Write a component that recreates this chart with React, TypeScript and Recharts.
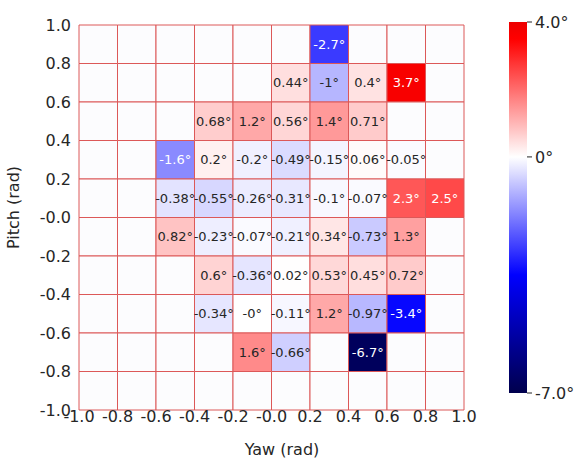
import React from 'react';
import { ScatterChart, Scatter, XAxis, YAxis, ReferenceArea } from 'recharts';

// grid edges and tick labels (the zero tick prints as "-0.0" in the original)
const yawTicks = [-1.0, -0.8, -0.6, -0.4, -0.2, 0.0, 0.2, 0.4, 0.6, 0.8, 1.0];
const yawTickLabels = ['-1.0', '-0.8', '-0.6', '-0.4', '-0.2', '-0.0', '0.2', '0.4', '0.6', '0.8', '1.0'];
const pitchTicks = [-1.0, -0.8, -0.6, -0.4, -0.2, 0.0, 0.2, 0.4, 0.6, 0.8, 1.0];
const pitchTickLabels = ['-1.0', '-0.8', '-0.6', '-0.4', '-0.2', '-0.0', '0.2', '0.4', '0.6', '0.8', '1.0'];

// mean error in degrees per cell, one array per pitch row (top to bottom), null = no data
const pitch08to10 = [null, null, null, null, null, null, -2.7, null, null, null];
const pitch06to08 = [null, null, null, null, null, 0.44, -1, 0.4, 3.7, null];
const pitch04to06 = [null, null, null, 0.68, 1.2, 0.56, 1.4, 0.71, null, null];
const pitch02to04 = [null, null, -1.6, 0.2, -0.2, -0.49, -0.15, 0.06, -0.05, null];
const pitch00to02 = [null, null, -0.38, -0.55, -0.26, -0.31, -0.1, -0.07, 2.3, 2.5];
const pitchM02to00 = [null, null, 0.82, -0.23, -0.07, -0.21, 0.34, -0.73, 1.3, null];
const pitchM04toM02 = [null, null, null, 0.6, -0.36, 0.02, 0.53, 0.45, 0.72, null];
const pitchM06toM04 = [null, null, null, -0.34, -0, -0.11, 1.2, -0.97, -3.4, null];
const pitchM08toM06 = [null, null, null, null, 1.6, -0.66, null, -6.7, null, null];
const pitchM10toM08 = [null, null, null, null, null, null, null, null, null, null];

const errorRows = [
  pitch08to10, pitch06to08, pitch04to06, pitch02to04, pitch00to02,
  pitchM02to00, pitchM04toM02, pitchM06toM04, pitchM08toM06, pitchM10toM08,
];

// colour bar
const cbDomain = [-7, 4];
const cbTicks = [-7, 0, 4];
const cbTickLabels = ['-7.0°', '0°', '4.0°'];

const FONT = '"DejaVu Sans", sans-serif';
const INK = '#262626';
const EMPTY = '#fcfcfe';
const GRID = '#dc5858';
const VLIM = 7;

// matplotlib "seismic"
const SEISMIC = [
  [0, 0, 0.3],
  [0, 0, 1],
  [1, 1, 1],
  [1, 0, 0],
  [0.5, 0, 0],
];

function seismicRgb(t: number) {
  const s = Math.max(0, Math.min(1, t)) * 4;
  const i = Math.min(3, Math.floor(s));
  const f = s - i;
  const a = SEISMIC[i];
  const b = SEISMIC[i + 1];
  return a.map((c, k) => Math.round((c + (b[k] - c) * f) * 255));
}

function colorFor(v: number) {
  const [r, g, b] = seismicRgb((v + VLIM) / (2 * VLIM));
  return `rgb(${r},${g},${b})`;
}

function textColorFor(v: number) {
  const [r, g, b] = seismicRgb((v + VLIM) / (2 * VLIM));
  return 0.299 * r + 0.587 * g + 0.114 * b < 160 ? '#ffffff' : INK;
}

function fmt(v: number) {
  return (Object.is(v, -0) ? '-0' : String(v)) + '°';
}

const labelData = errorRows.flatMap((row, r) =>
  row
    .map((v, c) =>
      v === null
        ? null
        : {
            x: (yawTicks[c] + yawTicks[c + 1]) / 2,
            y: (pitchTicks[9 - r] + pitchTicks[10 - r]) / 2,
            v,
          }
    )
    .filter(Boolean)
);

const cbStops = Array.from({ length: 45 }, (_, i) => {
  const v = cbDomain[1] - ((cbDomain[1] - cbDomain[0]) * i) / 44;
  return { offset: `${(i / 44) * 100}%`, color: colorFor(v) };
});

export default function App() {
  return (
    <div style={{ position: 'absolute', left: 0, top: 0, width: 582, height: 465, background: '#fff' }}>
      <svg width={0} height={0} style={{ position: 'absolute' }}>
        <defs>
          <linearGradient id="cbGrad" x1="0" y1="0" x2="0" y2="1">
            {cbStops.map((s, i) => (
              <stop key={i} offset={s.offset} stopColor={s.color} />
            ))}
          </linearGradient>
        </defs>
      </svg>

      {/* heat map */}
      <div style={{ position: 'absolute', left: 0, top: 0 }}>
        <ScatterChart width={582} height={465} margin={{ top: 25, right: 118, bottom: 0, left: 0 }}>
          <XAxis
            type="number"
            dataKey="x"
            domain={[-1, 1]}
            ticks={yawTicks}
            interval={0}
            tickFormatter={(v: number) => yawTickLabels[yawTicks.indexOf(v)]}
            axisLine={false}
            tickLine={false}
            tickSize={0}
            tickMargin={1}
            height={55}
            tick={{ fontSize: 16, fill: INK, fontFamily: FONT }}
            label={{
              content: (p: any) => {
                const vb = p.viewBox || { x: 79, y: 410, width: 385, height: 55 };
                return (
                  <text x={vb.x + vb.width / 2 + 10.5} y={vb.y + 44.5} textAnchor="middle" fontSize={16} fill={INK} fontFamily={FONT}>
                    Yaw (rad)
                  </text>
                );
              },
            }}
          />
          <YAxis
            type="number"
            dataKey="y"
            domain={[-1, 1]}
            ticks={pitchTicks}
            interval={0}
            tickFormatter={(v: number) => pitchTickLabels[pitchTicks.indexOf(v)]}
            axisLine={false}
            tickLine={false}
            width={79}
            tick={{ fontSize: 16, fill: INK, fontFamily: FONT }}
            label={{
              content: (p: any) => {
                const vb = p.viewBox || { x: 0, y: 25, width: 79, height: 385 };
                const x = vb.x + 19;
                const y = vb.y + vb.height / 2 - 10;
                return (
                  <text x={x} y={y} transform={`rotate(-90 ${x} ${y})`} textAnchor="middle" fontSize={16} fill={INK} fontFamily={FONT}>
                    Pitch (rad)
                  </text>
                );
              },
            }}
          />
          {errorRows.flatMap((row, r) =>
            row.map((v, c) => (
              <ReferenceArea
                key={`cell-${r}-${c}`}
                x1={yawTicks[c]}
                x2={yawTicks[c + 1]}
                y1={pitchTicks[9 - r]}
                y2={pitchTicks[10 - r]}
                fill={v === null ? EMPTY : colorFor(v)}
                fillOpacity={1}
                stroke={GRID}
                strokeWidth={1}
              />
            ))
          )}
          <Scatter
            data={labelData}
            isAnimationActive={false}
            shape={(p: any) => (
              <text
                x={p.cx}
                y={p.cy}
                dy="0.36em"
                textAnchor="middle"
                fontSize={13}
                fontFamily={FONT}
                fill={textColorFor(p.payload.v)}
              >
                {fmt(p.payload.v)}
              </text>
            )}
          />
        </ScatterChart>
      </div>

      {/* colour bar */}
      <div style={{ position: 'absolute', left: 0, top: 0 }}>
        <ScatterChart width={582} height={465} margin={{ top: 22, right: 0, bottom: 72, left: 509 }}>
          <XAxis type="number" dataKey="x" domain={[0, 1]} hide />
          <YAxis
            type="number"
            dataKey="y"
            orientation="right"
            domain={cbDomain}
            ticks={cbTicks}
            interval={0}
            tickFormatter={(v: number) => cbTickLabels[cbTicks.indexOf(v)]}
            axisLine={false}
            tickLine={{ stroke: INK, strokeWidth: 1 }}
            tickSize={5}
            tickMargin={3}
            width={55}
            tick={{ fontSize: 16, fill: INK, fontFamily: FONT }}
          />
          <ReferenceArea x1={0} x2={1} y1={cbDomain[0]} y2={cbDomain[1]} fill="url(#cbGrad)" fillOpacity={1} stroke="none" />
          <Scatter
            data={cbTicks.map((v) => ({ x: 0.5, y: v }))}
            isAnimationActive={false}
            shape={() => <g />}
          />
        </ScatterChart>
      </div>
    </div>
  );
}
